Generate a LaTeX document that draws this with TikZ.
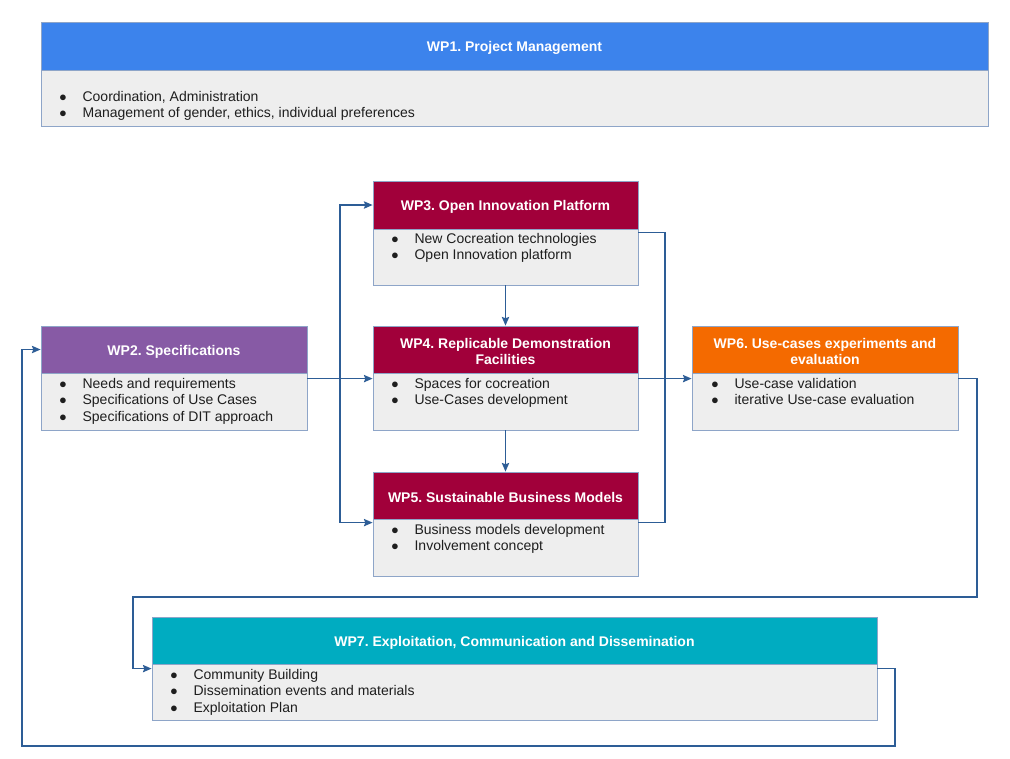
\documentclass[tikz,border=0pt]{standalone}
\usepackage{fontspec}
\setmainfont{Liberation Sans}
\usetikzlibrary{fit,arrows.meta}
\definecolor{cblue}{RGB}{60,131,236}
\definecolor{cpurple}{RGB}{135,90,165}
\definecolor{ccrimson}{RGB}{161,0,58}
\definecolor{corange}{RGB}{244,106,0}
\definecolor{ccyan}{RGB}{0,172,193}
\definecolor{cbody}{RGB}{238,238,238}
\definecolor{cborder}{RGB}{142,165,200}
\definecolor{cline}{RGB}{45,93,150}
\definecolor{ctext}{RGB}{30,30,30}
\newcommand{\bl}[1]{\makebox[17.5pt][l]{$\bullet$}#1}
\newcommand{\fl}{\rule{0pt}{8pt}}
\tikzset{
  hdr/.style={inner sep=0pt, draw=cborder, line width=0.6pt},
  hdrtext/.style={inner sep=0pt, text=white, align=center, yshift=-1.5pt,
    font=\fontsize{10.5}{12.2}\selectfont\bfseries\frenchspacing},
  bodybox/.style={inner sep=0pt, draw=cborder, line width=0.6pt, fill=cbody},
  items/.style={inner sep=0pt, anchor=north west, yshift=8pt, align=left, text=ctext,
    font=\fontsize{10.5}{12.4}\selectfont\frenchspacing},
  conn/.style={draw=cline, line width=1.1pt},
  arr/.style={conn, -{Stealth[length=6.5pt,width=5.5pt,inset=1pt]}}
}
\begin{document}
\begin{tikzpicture}[x=0.75pt,y=-0.75pt]
\useasboundingbox (0,0) rectangle (1010,758);
% WP1
\node[hdr, fill=cblue, fit={(41,22)(988,70)}] (w1h) {};
\node[hdrtext] (w1ht) at (w1h.center) {WP1. Project Management};
\node[bodybox, fit={(41,70)(988,126)}] (w1b) {};
\node[items] (w1t) at (59,101) {\fl\bl{Coordination, Administration}\\\bl{Management of gender, ethics, individual preferences}};
% WP2
\node[hdr, fill=cpurple, fit={(41,326)(307,373)}] (w2h) {};
\node[hdrtext] (w2ht) at (w2h.center) {WP2. Specifications};
\node[bodybox, fit={(41,373)(307,430)}] (w2b) {};
\node[items] (w2t) at (59,388) {\fl\bl{Needs and requirements}\\\bl{Specifications of Use Cases}\\\bl{Specifications of DIT approach}};
% WP3
\node[hdr, fill=ccrimson, fit={(373,181)(638,229)}] (w3h) {};
\node[hdrtext] (w3ht) at (w3h.center) {WP3. Open Innovation Platform};
\node[bodybox, fit={(373,229)(638,285)}] (w3b) {};
\node[items] (w3t) at (391,243) {\fl\bl{New Cocreation technologies}\\\bl{Open Innovation platform}};
% WP4
\node[hdr, fill=ccrimson, fit={(373,326)(638,373)}] (w4h) {};
\node[hdrtext] (w4ht) at (w4h.center) {WP4. Replicable Demonstration\\Facilities};
\node[bodybox, fit={(373,373)(638,430)}] (w4b) {};
\node[items] (w4t) at (391,388) {\fl\bl{Spaces for cocreation}\\\bl{Use-Cases development}};
% WP5
\node[hdr, fill=ccrimson, fit={(373,472)(638,519)}] (w5h) {};
\node[hdrtext] (w5ht) at (w5h.center) {WP5. Sustainable Business Models};
\node[bodybox, fit={(373,519)(638,576)}] (w5b) {};
\node[items] (w5t) at (391,534) {\fl\bl{Business models development}\\\bl{Involvement concept}};
% WP6
\node[hdr, fill=corange, fit={(692,326)(958,373)}] (w6h) {};
\node[hdrtext] (w6ht) at (w6h.center) {WP6. Use-cases experiments and\\evaluation};
\node[bodybox, fit={(692,373)(958,430)}] (w6b) {};
\node[items] (w6t) at (711,388) {\fl\bl{Use-case validation}\\\bl{iterative Use-case evaluation}};
% WP7
\node[hdr, fill=ccyan, fit={(152,617)(877,664)}] (w7h) {};
\node[hdrtext] (w7ht) at (w7h.center) {WP7. Exploitation, Communication and Dissemination};
\node[bodybox, fit={(152,664)(877,720)}] (w7b) {};
\node[items] (w7t) at (170,679) {\fl\bl{Community Building}\\\bl{Dissemination events and materials}\\\bl{Exploitation Plan}};
% connectors
\coordinate (fork) at (340,379);
\coordinate (rj) at (665,379);
\coordinate (h1) at (977,597);
\coordinate (h2) at (133,597);
\coordinate (l1) at (895,746);
\coordinate (l2) at (22,746);
\draw[arr] ([yshift=-4.5pt]w2b.north east) -- ([yshift=-4.5pt]w4b.north west);
\draw[arr] (fork) |- (w3h.west);
\draw[arr] (fork) |- ([yshift=-3pt]w5b.north west);
\draw[arr] (w3b.south) -- (w4h.north);
\draw[arr] (w4b.south) -- (w5h.north);
\draw[conn] ([yshift=-3pt]w3b.north east) -| (rj) |- ([yshift=-3pt]w5b.north east);
\draw[arr] ([yshift=-4.5pt]w4b.north east) -- ([yshift=-4.5pt]w6b.north west);
\draw[arr] ([yshift=-4.5pt]w6b.north east) -| (h1) -- (h2) |- ([yshift=-3.75pt]w7b.north west);
\draw[arr] ([yshift=-3.75pt]w7b.north east) -| (l1) -- (l2) |- (w2h.west);
\end{tikzpicture}
\end{document}
